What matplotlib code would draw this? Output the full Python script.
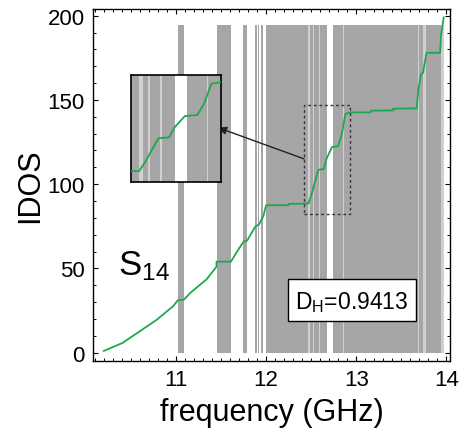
import matplotlib
matplotlib.use("Agg")
import matplotlib.pyplot as plt
from matplotlib.patches import Rectangle
from matplotlib.ticker import MultipleLocator

plt.rcParams['font.family'] = ['Liberation Sans', 'DejaVu Sans']
plt.rcParams['mathtext.default'] = 'regular'

# Spectrum bands (GHz): dark gray bands and light-gray lines
band_start = [11.019, 11.452, 11.744, 11.874, 11.914, 11.944, 11.997, 12.489, 12.533, 12.600,
              12.741, 12.862, 13.70, 13.778]
band_end   = [11.092, 11.608, 11.792, 11.894, 11.924, 11.970, 12.470, 12.519, 12.590, 12.674,
              12.854, 13.681, 13.74, 13.941]
light_start = [12.470, 12.519, 12.590, 12.854, 13.681, 13.74, 13.941]
light_end   = [12.489, 12.533, 12.600, 12.862, 13.70, 13.778, 13.970]

# Integrated density of states (staircase)
freq = [10.20, 10.41, 10.60, 10.79, 10.97, 11.02, 11.09, 11.16, 11.34, 11.45, 11.45, 11.61,
        11.67, 11.75, 11.79, 11.88, 11.92, 11.97, 12.00, 12.25, 12.25, 12.47, 12.51, 12.54,
        12.58, 12.64, 12.67, 12.73, 12.80, 12.84, 12.88, 12.93, 13.16, 13.16, 13.41, 13.41,
        13.67, 13.69, 13.72, 13.74, 13.78, 13.93, 13.94, 13.97]
idos = [1.0, 5.8, 12.7, 19.6, 27.6, 31.0, 31.5, 35.5, 43.5, 51.0, 54.0, 54.0,
        59.3, 65.9, 66.5, 74.8, 76.0, 81.0, 87.5, 87.5, 88.3, 88.5, 95.0, 101.0,
        108.5, 109.0, 115.0, 122.0, 122.6, 129.8, 141.7, 142.6, 142.6, 143.6, 143.8, 144.8,
        145.0, 156.5, 165.5, 166.0, 178.0, 178.0, 188.0, 199.0]

xticks = [11, 12, 13, 14]
yticks = [0, 50, 100, 150, 200]

zoom_x = (12.422, 12.933)
zoom_y = (82, 147)

dark = '#a6a6a6'
light = '#d0d0d0'
green = '#1ea84e'

W, H = 463, 431
fig = plt.figure(figsize=(W / 100, H / 100), dpi=100)
ax = fig.add_axes([93 / W, 1 - 362 / H, (450 - 93) / W, (362 - 10) / H])

def draw_bands(a, ymin, ymax):
    for s, e in zip(band_start, band_end):
        a.axvspan(s, e, ymin=ymin, ymax=ymax, color=dark, lw=0, zorder=1)
    for s, e in zip(light_start, light_end):
        a.axvspan(s, e, ymin=ymin, ymax=ymax, color=light, lw=0, zorder=1)

draw_bands(ax, 0.022, 0.955)
ax.plot(freq, idos, color=green, lw=1.3, zorder=3)

ax.set_xlim(10.08, 14.04)
ax.set_ylim(-5, 204)
ax.set_xticks(xticks)
ax.set_yticks(yticks)
ax.xaxis.set_minor_locator(MultipleLocator(0.1))
ax.yaxis.set_minor_locator(MultipleLocator(10))
ax.tick_params(which='both', direction='in', top=True, right=True, labelsize=16)
ax.tick_params(which='major', length=3.5, width=0.8)
ax.tick_params(which='minor', length=2, width=0.7)
ax.tick_params(axis='x', pad=6)
ax.tick_params(axis='y', pad=6)
for sp in ax.spines.values():
    sp.set_linewidth(1.0)
ax.set_xlabel('frequency (GHz)', fontsize=22, labelpad=5)
ax.set_ylabel('IDOS', fontsize=22, labelpad=2)

# dashed zoom rectangle
ax.add_patch(Rectangle((zoom_x[0], zoom_y[0]), zoom_x[1] - zoom_x[0], zoom_y[1] - zoom_y[0],
                       fill=False, ls=(0, (2, 2)), lw=1.0, ec='#333333', zorder=4))
ax.annotate('', xy=(11.47, 133.5), xytext=(zoom_x[0], 115),
            arrowprops=dict(arrowstyle='-|>', color='#222222', lw=1.0,
                            mutation_scale=12, shrinkA=0, shrinkB=0), zorder=5)

ax.text(10.36, 52, 'S$_{14}$', fontsize=25, ha='left', va='center', zorder=5)

# D_H label box
ax.add_patch(Rectangle((12.239, 18.6), 1.428, 24.9, fc='white', ec='black', lw=1.0, zorder=5))
ax.text(12.953, 30.5, 'D$_{H}$=0.9413', fontsize=16.5, ha='center', va='center', zorder=6)

# inset
ins = fig.add_axes([130.7 / W, 1 - 182.7 / H, 90 / W, 106.7 / H])
ins.set_facecolor('white')
draw_bands(ins, 0, 1)
ins.plot(freq, idos, color=green, lw=1.3, zorder=3)
ins.set_xlim(*zoom_x)
ins.set_ylim(*zoom_y)
ins.set_xticks([])
ins.set_yticks([])
for sp in ins.spines.values():
    sp.set_linewidth(1.2)

fig.savefig('out.png', dpi=100)
